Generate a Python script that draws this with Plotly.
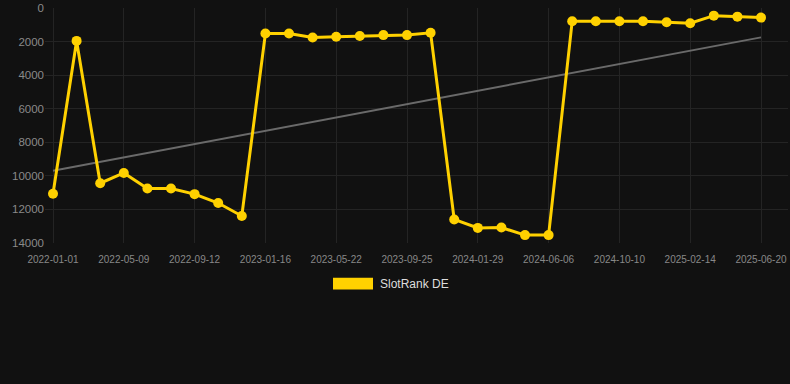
import plotly.graph_objects as go

dates = [
    "2022-01-01", "2022-02-12", "2022-03-26", "2022-05-09", "2022-06-20", "2022-08-01",
    "2022-09-12", "2022-10-24", "2022-12-05", "2023-01-16", "2023-02-27", "2023-04-10",
    "2023-05-22", "2023-07-03", "2023-08-14", "2023-09-25", "2023-11-06", "2023-12-18",
    "2024-01-29", "2024-03-11", "2024-04-22", "2024-06-06", "2024-07-18", "2024-08-29",
    "2024-10-10", "2024-11-21", "2025-01-03", "2025-02-14", "2025-03-28", "2025-05-09",
    "2025-06-20",
]
rank_de = [
    11070, 1960, 10440, 9825, 10750, 10750,
    11090, 11620, 12390, 1518, 1518, 1755,
    1713, 1673, 1614, 1614, 1477, 12600,
    13100, 13080, 13530, 13530, 787, 787,
    787, 787, 846, 905, 455, 514,
    573,
]
trend_values = [9700, 1750]
tick_labels = [
    "2022-01-01", "2022-05-09", "2022-09-12", "2023-01-16", "2023-05-22", "2023-09-25",
    "2024-01-29", "2024-06-06", "2024-10-10", "2025-02-14", "2025-06-20",
]
y_ticks = [0, 2000, 4000, 6000, 8000, 10000, 12000, 14000]
series_name = "SlotRank DE"

W, H = 790, 384
ML, MR, MT, MB = 45, 2, 6, 141
PW, PH = W - ML - MR, H - MT - MB

def px_x(p):
    return (p - ML) / PW

def px_y(p):
    return (H - MB - p) / PH

GOLD = "#FFD100"
BG = "#111111"
GRID = "#242424"

fig = go.Figure()
fig.add_trace(go.Scatter(
    x=[dates[0], dates[-1]], y=trend_values, mode="lines",
    line=dict(color="#6a6a6a", width=2), showlegend=False, hoverinfo="skip",
))
fig.add_trace(go.Scatter(
    x=dates, y=rank_de, mode="lines+markers", name=series_name,
    line=dict(color=GOLD, width=3), marker=dict(color=GOLD, size=10),
    showlegend=False,
))

n = len(dates)
step = (761 - 53) / (n - 1)
x_lo = -(53 - ML) / step
x_hi = (n - 1) + (W - MR - 761) / step

fig.update_layout(
    width=W, height=H,
    margin=dict(l=ML, r=MR, t=MT, b=MB),
    paper_bgcolor=BG, plot_bgcolor=BG,
    font=dict(family="Liberation Sans, Arial, sans-serif", color="#8a8a8a"),
    xaxis=dict(
        type="category", categoryorder="array", categoryarray=dates,
        range=[x_lo, x_hi],
        tickmode="array", tickvals=tick_labels, ticktext=tick_labels,
        tickfont=dict(size=10, color="#888888"),
        ticklabelstandoff=9,
        showgrid=True, gridcolor=GRID, gridwidth=1,
        zeroline=False, showline=False, ticks="",
    ),
    yaxis=dict(
        range=[14000, 0],
        tickmode="array", tickvals=y_ticks, ticktext=[str(v) for v in y_ticks],
        tickfont=dict(size=11.5, color="#8a8a8a"),
        showgrid=True, gridcolor=GRID, gridwidth=1,
        zeroline=False, showline=False, ticks="",
    ),
    shapes=[dict(
        type="rect", xref="paper", yref="paper",
        x0=px_x(333), x1=px_x(373), y0=px_y(290), y1=px_y(278),
        fillcolor=GOLD, line=dict(width=0),
    )],
    annotations=[dict(
        text=series_name, xref="paper", yref="paper",
        x=px_x(378), y=px_y(284.5), xanchor="left", yanchor="middle",
        showarrow=False, font=dict(size=12, color="#dddddd"),
    )],
    showlegend=False,
)

fig.write_html(
    "out.html",
    config={"displayModeBar": False},
    post_script="document.body.style.margin='0';document.body.style.background='#111111';",
)
